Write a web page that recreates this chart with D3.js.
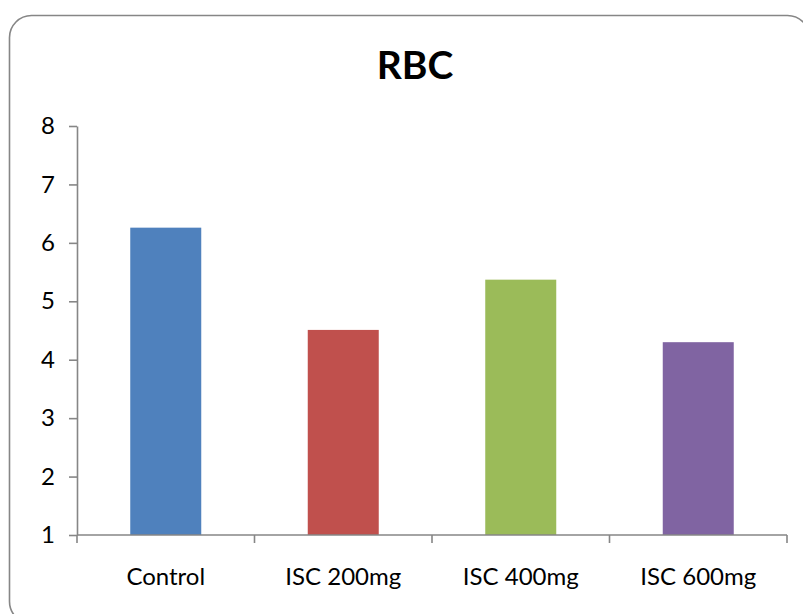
<!DOCTYPE html>
<html lang="en">
<head>
    <meta charset="UTF-8">
    <title>RBC</title>
    <script src="https://cdnjs.cloudflare.com/ajax/libs/d3/7.8.5/d3.min.js"></script>
    <style>
        body {
            margin: 0;
            background: white;
            font-family: Lato, "Open Sans", sans-serif;
        }
        svg { display: block; }
    </style>
</head>
<body>
    <svg id="chart" width="803" height="614"></svg>

    <script>
        // chart data
        const groups = ["Control", "ISC 200mg", "ISC 400mg", "ISC 600mg"];
        const rbcValues = [6.26, 4.51, 5.37, 4.3];
        const barColors = ["#4f81bd", "#c0504d", "#9bbb59", "#8064a2"];
        const yTicks = [1, 2, 3, 4, 5, 6, 7, 8];

        const svg = d3.select("#chart");

        // outer rounded frame
        svg.append("rect")
            .attr("x", 9.5)
            .attr("y", 15.5)
            .attr("width", 800)
            .attr("height", 608)
            .attr("rx", 22)
            .attr("fill", "white")
            .attr("stroke", "#868686")
            .attr("stroke-width", 1.6);

        svg.append("text")
            .attr("x", 415)
            .attr("y", 79)
            .attr("text-anchor", "middle")
            .style("font-size", "39px")
            .style("font-weight", "bold")
            .text("RBC");

        const plotLeft = 77, plotRight = 787, plotTop = 126, plotBottom = 535;

        const x = d3.scaleBand()
            .domain(groups)
            .range([plotLeft, plotRight])
            .padding(0);

        const y = d3.scaleLinear()
            .domain([1, 8])
            .range([plotBottom, plotTop]);

        const barW = x.bandwidth() * 0.4;

        svg.selectAll(".bar")
            .data(groups)
            .enter()
            .append("rect")
            .attr("class", "bar")
            .attr("x", d => x(d) + (x.bandwidth() - barW) / 2)
            .attr("y", (d, i) => y(rbcValues[i]))
            .attr("width", barW)
            .attr("height", (d, i) => y(1) - y(rbcValues[i]))
            .attr("fill", (d, i) => barColors[i]);

        // y axis
        const yAxis = svg.append("g")
            .attr("transform", `translate(${plotLeft},0)`)
            .call(d3.axisLeft(y).tickValues(yTicks).tickSize(8).tickSizeOuter(0).tickPadding(14).tickFormat(d3.format("d")));

        // x axis: ticks on the band edges
        const edges = groups.map(g => x(g)).concat([plotRight]);
        const xAxis = svg.append("g").attr("transform", `translate(0,${plotBottom})`);
        xAxis.append("line")
            .attr("x1", plotLeft).attr("x2", plotRight)
            .attr("stroke", "#868686").attr("stroke-width", 1.6);
        xAxis.selectAll(".xtick")
            .data(edges)
            .enter()
            .append("line")
            .attr("x1", d => d).attr("x2", d => d)
            .attr("y1", 0).attr("y2", 8)
            .attr("stroke", "#868686").attr("stroke-width", 1.6);
        xAxis.selectAll(".xlabel")
            .data(groups)
            .enter()
            .append("text")
            .attr("x", d => x(d) + x.bandwidth() / 2)
            .attr("y", 50)
            .attr("text-anchor", "middle")
            .style("font-size", "24px")
            .text(d => d);

        yAxis.select(".domain").attr("stroke", "#868686").attr("stroke-width", 1.6);
        yAxis.selectAll(".tick line").attr("stroke", "#868686").attr("stroke-width", 1.6);
        yAxis.selectAll(".tick text")
            .style("font-size", "24px")
            .style("font-family", "Lato, sans-serif")
            .attr("fill", "black");
    </script>
</body>
</html>
